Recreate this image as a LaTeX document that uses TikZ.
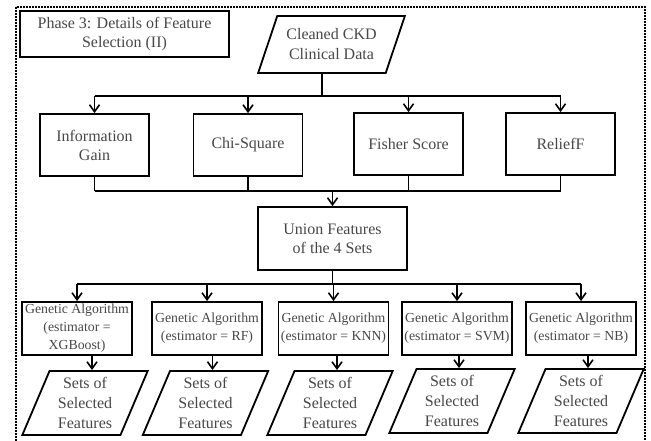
\documentclass[tikz,border=0pt]{standalone}
\usepackage{fontspec}
\setmainfont{Liberation Serif}
\usetikzlibrary{arrows.meta, positioning, shapes.geometric, calc}

\begin{document}
\begin{tikzpicture}[x=1pt, y=-1pt,
    every node/.style={text=black!72},
    procbox/.style={draw=black, line width=1.8pt, align=center, inner sep=2pt, font=\fontsize{16}{19}\selectfont},
    filterbox/.style={procbox, minimum width=109pt, minimum height=62pt},
    gabox/.style={draw=black, line width=1.8pt, align=center, inner sep=0pt, minimum width=110pt, minimum height=53pt, font=\fontsize{13.8}{18}\selectfont},
    databox/.style={draw=black, line width=1.8pt, trapezium, trapezium stretches=true, align=center, inner sep=0pt, font=\fontsize{16}{20}\selectfont},
    arr/.style={line width=1.8pt, -{Straight Barb[length=7pt, width=10pt, line width=1.6pt]}},
    link/.style={line width=1.8pt}
]
\useasboundingbox (0,0) rectangle (651,441);
% Outer dashed frame
\draw[line width=1.4pt, dash pattern=on 2pt off 1pt] (16,7) rectangle (645,470);

% Title and input data
\node[procbox, minimum width=209pt, minimum height=46pt] (phase) at (124.5,34) {Phase 3: Details of Feature\\Selection (II)};
\node[databox, trapezium left angle=63, trapezium right angle=117, minimum width=147pt, minimum height=57pt] (data) at (331.5,44.5) {Cleaned CKD\\Clinical Data};

% Filter methods
\node[filterbox] (ig) at (94.5,145) {Information\\Gain};
\node[filterbox] (chi) at (248,145) {Chi-Square};
\node[filterbox] (fs) at (408.5,144) {Fisher Score};
\node[filterbox] (rf) at (560.5,144) {ReliefF};

% Union of the sets
\node[procbox, minimum width=149pt, minimum height=63pt] (union) at (332.5,238.5) {Union Features\\of the 4 Sets};

% Genetic algorithm wrappers
\node[gabox] (ga1) at (77,328.5) {Genetic Algorithm\\(estimator =\\XGBoost)};
\node[gabox] (ga2) at (207,328.5) {Genetic Algorithm\\(estimator = RF)};
\node[gabox] (ga3) at (333.5,328.5) {Genetic Algorithm\\(estimator = KNN)};
\node[gabox] (ga4) at (457,328.5) {Genetic Algorithm\\(estimator = SVM)};
\node[gabox] (ga5) at (581,328.5) {Genetic Algorithm\\(estimator = NB)};

% Output sets
\foreach \n/\x/\y in {1/85/403, 2/205.5/403, 3/330/403, 4/452/401, 5/581/401} {
    \node[databox, trapezium left angle=68, trapezium right angle=112, minimum width=126pt, minimum height=64pt] (s\n) at (\x,\y) {Sets of\\Selected\\Features};
}

% Data to filters
\coordinate (bus1) at ($(data.bottom side)+(0,22)$);
\draw[link] (data.bottom side) -- (bus1);
\draw[link] (bus1 -| ig.north) -- (bus1 -| rf.north);
\foreach \b in {ig,chi,fs,rf} {
    \draw[arr] (bus1 -| \b.north) -- (\b.north);
}

% Filters to union
\coordinate (bus2) at ($(ig.south)+(0,14)$);
\foreach \b in {ig,chi,fs,rf} {
    \draw[link] (\b.south) -- (bus2 -| \b.south);
}
\draw[link] (bus2 -| ig.south) -- (bus2 -| rf.south);
\draw[arr] (bus2 -| union.north) -- (union.north);

% Union to genetic algorithms
\coordinate (bus3) at ($(union.south)+(0,13)$);
\draw[link] (union.south) -- (bus3);
\draw[link] (bus3 -| ga1.north) -- (bus3 -| ga5.north);
\foreach \g in {ga1,ga2,ga3,ga4,ga5} {
    \draw[arr] (bus3 -| \g.north) -- (\g.north);
}

% Genetic algorithms to selected sets
\foreach \n in {1,...,5} {
    \draw[arr] ($(s\n.center |- ga\n.south)+(7,0)$) -- ($(s\n.center |- s\n.north)+(7,0)$);
}
\end{tikzpicture}
\end{document}
